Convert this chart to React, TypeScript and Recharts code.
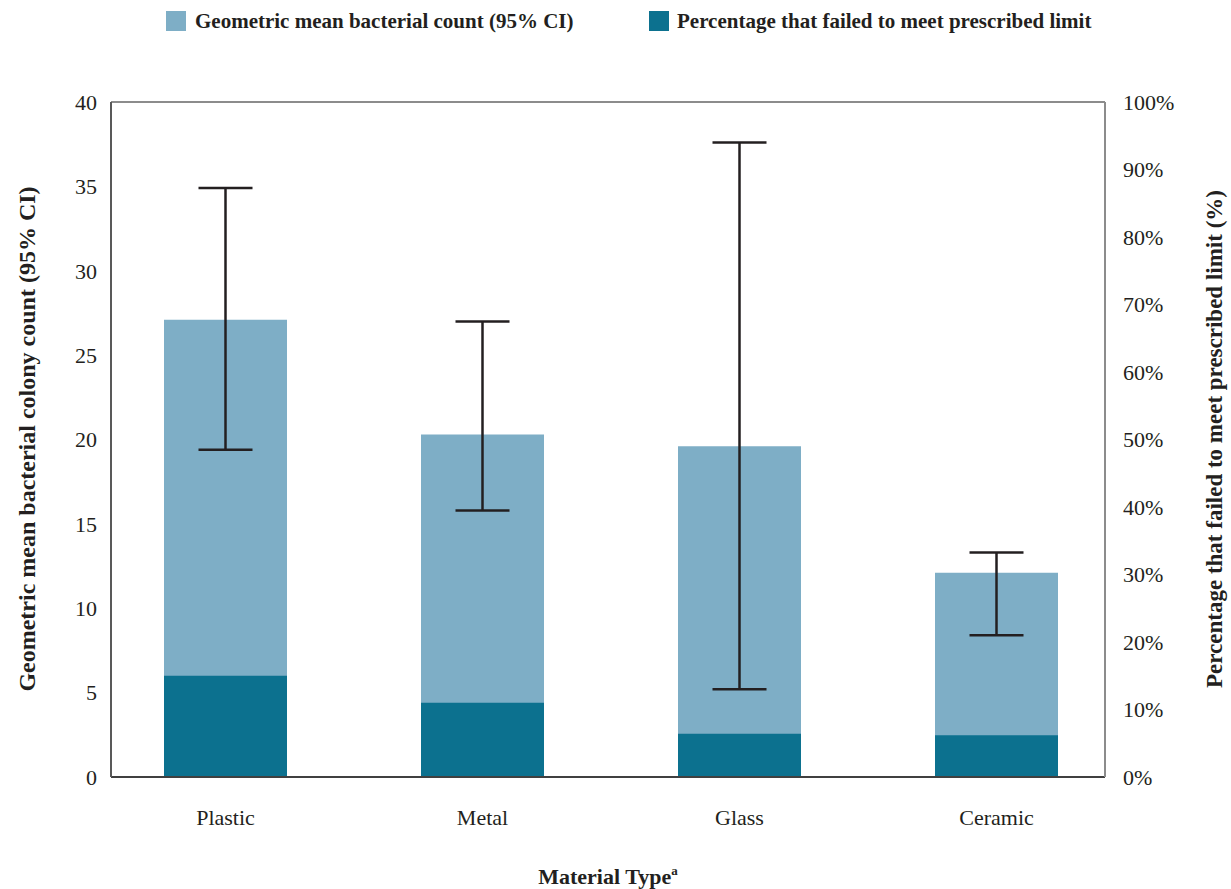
import React from 'react';
import { BarChart, Bar, XAxis, YAxis, ErrorBar, ReferenceLine, Label } from 'recharts';

const categories = ['Plastic', 'Metal', 'Glass', 'Ceramic'];
const geoMean = [27.1, 20.3, 19.6, 12.1];
const ciLow = [19.4, 15.8, 5.2, 8.4];
const ciHigh = [34.9, 27.0, 37.6, 13.3];
const pctFailed = [15, 11, 6.4, 6.2];
const leftTicks = [0, 5, 10, 15, 20, 25, 30, 35, 40];
const rightTicks = [0, 10, 20, 30, 40, 50, 60, 70, 80, 90, 100];

const LIGHT = '#7eaec6';
const DARK = '#0c718f';
const FONT = '"Liberation Serif", "DejaVu Serif", serif';

const data = categories.map((c, i) => ({
  category: c,
  mean: geoMean[i],
  err: [geoMean[i] - ciLow[i], ciHigh[i] - geoMean[i]],
  pct: pctFailed[i],
}));

const tickStyle = { fill: '#231f20', fontSize: 22, fontFamily: FONT };

export default function App() {
  return (
    <div style={{ position: 'absolute', left: 0, top: 0, width: 1231, height: 889, background: '#fff', fontFamily: FONT }}>
      <div style={{ position: 'absolute', left: 166, top: 11, width: 20, height: 20, background: LIGHT }} />
      <div style={{ position: 'absolute', left: 195, top: 6, fontSize: 21, fontWeight: 'bold', color: '#231f20', whiteSpace: 'nowrap', lineHeight: '30px' }}>
        Geometric mean bacterial count (95% CI)
      </div>
      <div style={{ position: 'absolute', left: 649, top: 11, width: 20, height: 20, background: DARK }} />
      <div style={{ position: 'absolute', left: 677, top: 6, fontSize: 21, fontWeight: 'bold', color: '#231f20', whiteSpace: 'nowrap', lineHeight: '30px' }}>
        Percentage that failed to meet prescribed limit
      </div>
      <BarChart
        width={1231}
        height={889}
        data={data}
        margin={{ top: 102, right: 46, bottom: 52, left: 51 }}
        style={{ position: 'absolute', left: 0, top: 0 }}
      >
        <XAxis
          xAxisId="a"
          dataKey="category"
          height={60}
          padding={{ left: -14, right: -20 }}
          tickLine={false}
          tickSize={6}
          tickMargin={26}
          tick={tickStyle}
          axisLine={{ stroke: '#404040', strokeWidth: 2 }}
        >
          <Label
            content={() => (
              <text x={608} y={884} textAnchor="middle" fontFamily={FONT} fontSize={22} fontWeight="bold" fill="#231f20">
                Material Type<tspan fontSize={13} dy={-9}>a</tspan>
              </text>
            )}
          />
        </XAxis>
        <XAxis xAxisId="b" dataKey="category" hide padding={{ left: -14, right: -20 }} />
        <YAxis
          yAxisId="left"
          orientation="left"
          width={60}
          domain={[0, 40]}
          ticks={leftTicks}
          tickLine={false}
          tickSize={6}
          tickMargin={8}
          tick={tickStyle}
          axisLine={{ stroke: '#595959', strokeWidth: 2 }}
        >
          <Label
            content={() => (
              <text x={27} y={439} transform="rotate(-90 27 439)" textAnchor="middle" dominantBaseline="central" fontFamily={FONT} fontSize={24} fontWeight="bold" fill="#231f20">
                Geometric mean bacterial colony count (95% CI)
              </text>
            )}
          />
        </YAxis>
        <YAxis
          yAxisId="right"
          orientation="right"
          width={80}
          domain={[0, 100]}
          ticks={rightTicks}
          tickFormatter={(v) => `${v}%`}
          tickLine={false}
          tickSize={6}
          tickMargin={12}
          tick={tickStyle}
          axisLine={{ stroke: '#8c8c8c', strokeWidth: 2 }}
        >
          <Label
            content={() => (
              <text x={1214} y={439} transform="rotate(-90 1214 439)" textAnchor="middle" dominantBaseline="central" fontFamily={FONT} fontSize={23} fontWeight="bold" fill="#231f20">
                Percentage that failed to meet prescribed limit (%)
              </text>
            )}
          />
        </YAxis>
        <ReferenceLine yAxisId="left" xAxisId="a" y={40} stroke="#8c8c8c" strokeWidth={2} />
        <Bar xAxisId="a" yAxisId="left" dataKey="mean" fill={LIGHT} barSize={123} isAnimationActive={false}>
          <ErrorBar dataKey="err" direction="y" width={27} stroke="#231f20" strokeWidth={2.5} />
        </Bar>
        <Bar xAxisId="b" yAxisId="right" dataKey="pct" fill={DARK} barSize={123} isAnimationActive={false} />
      </BarChart>
    </div>
  );
}
